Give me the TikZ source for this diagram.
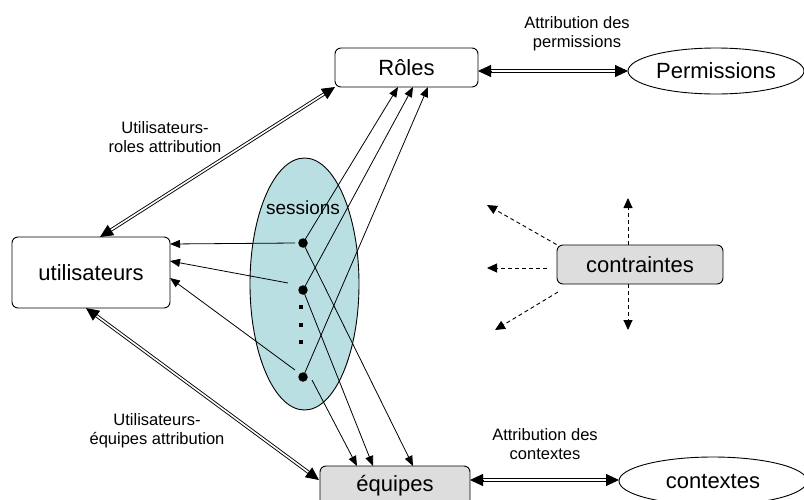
\documentclass[tikz,border=0pt]{standalone}
\usepackage{fontspec}
\setmainfont{Liberation Sans}
\usetikzlibrary{arrows.meta,shapes.geometric,calc}
\definecolor{sessfill}{RGB}{185,223,227}
\definecolor{boxgray}{RGB}{221,221,221}
\begin{document}
\begin{tikzpicture}[x=1pt,y=-1pt,
  bigtxt/.style={font=\fontsize{22}{26}\selectfont},
  lbl/.style={font=\fontsize{16.5}{19}\selectfont, align=center, inner sep=0pt},
  rbox/.style={draw, rounded corners=6pt, line width=0.9pt, inner sep=0pt, bigtxt},
  oval/.style={draw, ellipse, line width=0.9pt, inner sep=0pt, bigtxt, fill=white},
  dbl/.style={line width=0.9pt, double=white, double distance=1.6pt},
  headtip/.style={line width=0.9pt, -{Triangle[length=13pt,width=12pt]}},
  link/.style={line width=0.8pt, -{Triangle[length=10pt,width=8pt]}},
  dsh/.style={line width=0.9pt, dash pattern=on 4pt off 3pt, -{Triangle[length=10pt,width=9pt]}},
  sdot/.style={circle, fill=black, inner sep=0pt, minimum size=9.5pt},
  tdot/.style={rectangle, fill=black, inner sep=0pt, minimum size=3.2pt}
]
% double-lined connector with a solid head at each end
\newcommand{\dblarrow}[2]{%
  \draw[dbl] ($(#1)!12pt!(#2)$) -- ($(#2)!12pt!(#1)$);
  \draw[headtip] ($(#1)!13pt!(#2)$) -- (#1);
  \draw[headtip] ($(#2)!13pt!(#1)$) -- (#2);
}
\path[use as bounding box] (0,0) rectangle (804,499);
\clip (0,0) rectangle (804,499);

% session container
\node[draw, ellipse, fill=sessfill, line width=0.9pt, minimum width=109pt, minimum height=252pt, inner sep=0pt] (sess) at (304.5,284) {};
\node[font=\fontsize{19}{22}\selectfont, inner sep=0pt] (sesslbl) at (303,208) {sessions};

% main entities
\node[rbox, minimum width=143pt, minimum height=39pt] (roles) at (406.5,67.5) {Rôles};
\node[oval, minimum width=176pt, minimum height=46pt] (perm) at (716,71) {Permissions};
\node[rbox, minimum width=158pt, minimum height=71pt] (util) at (91,272.5) {utilisateurs};
\node[rbox, fill=boxgray, minimum width=150pt, minimum height=40pt] (equipes) at (395,486) {équipes};
\node[oval, minimum width=188pt, minimum height=48pt] (ctx) at (713,481) {contextes};
\node[rbox, fill=boxgray, minimum width=166pt, minimum height=39pt] (ctr) at (640,264.5) {contraintes};

% session instances
\node[sdot] (d1) at (303,243) {};
\node[sdot] (d2) at (303,290) {};
\node[sdot] (d3) at (303,377) {};
\node[tdot] (e1) at (301,307) {};
\node[tdot] (e2) at (301,325) {};
\node[tdot] (e3) at (301,342) {};

% attachment points
\coordinate (u1) at (170,244);
\coordinate (u2) at (170,261);
\coordinate (u3) at (170,278);
\coordinate (s1) at (295,243);
\coordinate (s2) at (288,283);
\coordinate (s3) at (295,370);
\coordinate (s3b) at (312,380);
\coordinate (r1) at (398,87);
\coordinate (r2) at (413,87);
\coordinate (r3) at (428,87);
\coordinate (q1) at (357,466);
\coordinate (q2) at (373,466);
\coordinate (q3) at (413,466);
\coordinate (utop) at (100,237);
\coordinate (ubot) at (86,308);
\coordinate (qwest) at (319,480);
\coordinate (qeast) at (470,480);
\coordinate (reast) at (478,71);
\coordinate (rsw) at (335,87);
\coordinate (pwest) at (628,71);
\coordinate (cwest) at (619,480);

% sessions -> users
\draw[link] (s1) -- (u1);
\draw[link] (s2) -- (u2);
\draw[link] (s3) -- (u3);
% sessions -> roles
\draw[link] (d1.center) -- (r1);
\draw[link] (d2.center) -- (r2);
\draw[link] (d3.center) -- (r3);
% sessions -> teams
\draw[link] (s3b) -- (q1);
\draw[link] (d2.center) -- (q2);
\draw[link] (d1.center) -- (q3);

% assignments
\dblarrow{utop}{rsw}
\dblarrow{ubot}{qwest}
\dblarrow{reast}{pwest}
\dblarrow{qeast}{cwest}

% constraints
\coordinate (c0) at (628,245);
\coordinate (c1) at (628,198);
\coordinate (c2) at (628,284);
\coordinate (c3) at (628,330);
\coordinate (c4) at (547,268);
\coordinate (c5) at (487,268);
\coordinate (c6) at (487,205);
\coordinate (c7) at (558,292);
\coordinate (c8) at (495,330);
\draw[dsh] (c0) -- (c1);
\draw[dsh] (c2) -- (c3);
\draw[dsh] (c4) -- (c5);
\draw[dsh] (ctr.north west) -- (c6);
\draw[dsh] (c7) -- (c8);

% labels
\node[lbl] (lperm) at (577,34) {Attribution des\\permissions};
\node[lbl] (lur) at (165,137) {Utilisateurs-\\roles attribution};
\node[lbl] (lue) at (157,431) {Utilisateurs-\\équipes attribution};
\node[lbl] (lctx) at (545,444) {Attribution des\\contextes};
\end{tikzpicture}
\end{document}
